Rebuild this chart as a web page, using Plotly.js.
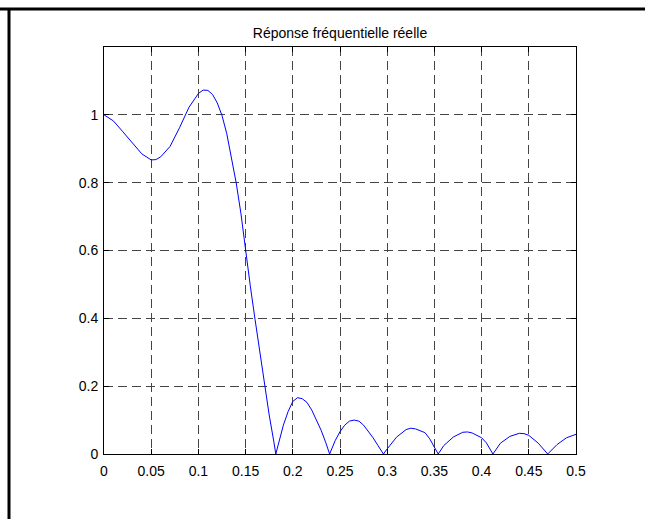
<!DOCTYPE html>
<html>
<head>
<meta charset="utf-8">
<script src="https://cdn.plot.ly/plotly-3.0.1.min.js"></script>
<style>
html,body{margin:0;padding:0;background:#fff;}
#chart{width:645px;height:519px;}
</style>
</head>
<body>
<div id="chart"></div>
<script>
var freq = [0, 0.01, 0.02, 0.03, 0.04, 0.05, 0.055, 0.06, 0.07, 0.08, 0.09, 0.10, 0.105, 0.11, 0.115, 0.12, 0.125, 0.13, 0.135, 0.14, 0.145, 0.15, 0.155, 0.16, 0.165, 0.17, 0.175, 0.18, 0.182,
  0.19, 0.195, 0.20, 0.205, 0.21, 0.215, 0.22, 0.225, 0.23, 0.235, 0.239,
  0.245, 0.25, 0.255, 0.26, 0.265, 0.27, 0.275, 0.28, 0.285, 0.29, 0.296,
  0.30, 0.31, 0.32, 0.325, 0.33, 0.34, 0.345, 0.35, 0.354,
  0.36, 0.37, 0.38, 0.385, 0.39, 0.40, 0.405, 0.41, 0.412,
  0.42, 0.43, 0.44, 0.445, 0.45, 0.46, 0.47,
  0.48, 0.49, 0.50];
var amplitude = [1.000, 0.982, 0.950, 0.917, 0.885, 0.867, 0.868, 0.876, 0.907, 0.962, 1.022, 1.063, 1.073, 1.072, 1.060, 1.035, 0.998, 0.945, 0.875, 0.800, 0.710, 0.595, 0.495, 0.397, 0.300, 0.200, 0.115, 0.035, 0.0,
  0.085, 0.125, 0.155, 0.166, 0.163, 0.152, 0.130, 0.100, 0.070, 0.033, 0.0,
  0.040, 0.066, 0.085, 0.097, 0.100, 0.097, 0.085, 0.068, 0.048, 0.026, 0.0,
  0.015, 0.050, 0.072, 0.076, 0.074, 0.063, 0.045, 0.020, 0.0,
  0.025, 0.050, 0.064, 0.065, 0.062, 0.048, 0.033, 0.012, 0.0,
  0.032, 0.052, 0.061, 0.060, 0.055, 0.032, 0.0,
  0.028, 0.048, 0.058];
var xTicks = [0, 0.05, 0.1, 0.15, 0.2, 0.25, 0.3, 0.35, 0.4, 0.45, 0.5];
var xTickLabels = ['0', '0.05', '0.1', '0.15', '0.2', '0.25', '0.3', '0.35', '0.4', '0.45', '0.5'];
var yTicks = [0, 0.2, 0.4, 0.6, 0.8, 1];
var yTickLabels = ['0', '0.2', '0.4', '0.6', '0.8', '1'];
var titleText = 'Réponse fréquentielle réelle';

var W = 645, H = 519;
var L = 104, R = 69, T = 47, B = 65;
var pw = W - L - R, ph = H - T - B;
function px2x(px){ return (px - L) / pw; }
function py2y(py){ return (H - B - py) / ph; }

var font = {family: 'Liberation Sans, Arial, sans-serif', size: 14, color: '#000'};

var trace = {
  x: freq, y: amplitude, type: 'scatter', mode: 'lines',
  line: {color: '#0000ff', width: 1}, hoverinfo: 'skip'
};

var axisCommon = {
  showline: true, linecolor: '#000', linewidth: 1, mirror: 'ticks',
  ticks: 'inside', ticklen: 5, tickcolor: '#000', tickwidth: 1,
  showgrid: true, gridcolor: '#444', gridwidth: 1, griddash: '9px,5px',
  zeroline: false, tickfont: font, fixedrange: true
};

var layout = {
  width: W, height: H,
  margin: {l: L, r: R, t: T, b: B, pad: 0},
  paper_bgcolor: '#fff', plot_bgcolor: '#fff',
  showlegend: false,
  title: {text: titleText, font: font, xref: 'paper', x: 0.5, xanchor: 'center',
          yref: 'container', y: 1 - 33 / H, yanchor: 'middle'},
  xaxis: Object.assign({}, axisCommon, {range: [0, 0.5], tickvals: xTicks, ticktext: xTickLabels, ticklabelstandoff: 4}),
  yaxis: Object.assign({}, axisCommon, {range: [0, 1.2], tickvals: yTicks, ticktext: yTickLabels, ticklabelstandoff: 2}),
  shapes: [
    {type: 'line', xref: 'paper', yref: 'paper', x0: px2x(0), x1: px2x(645), y0: py2y(9), y1: py2y(9), line: {color: '#000', width: 3}},
    {type: 'line', xref: 'paper', yref: 'paper', x0: px2x(9), x1: px2x(9), y0: py2y(9), y1: py2y(519), line: {color: '#000', width: 3}}
  ]
};

Plotly.newPlot('chart', [trace], layout, {displayModeBar: false, staticPlot: true});
</script>
</body>
</html>
